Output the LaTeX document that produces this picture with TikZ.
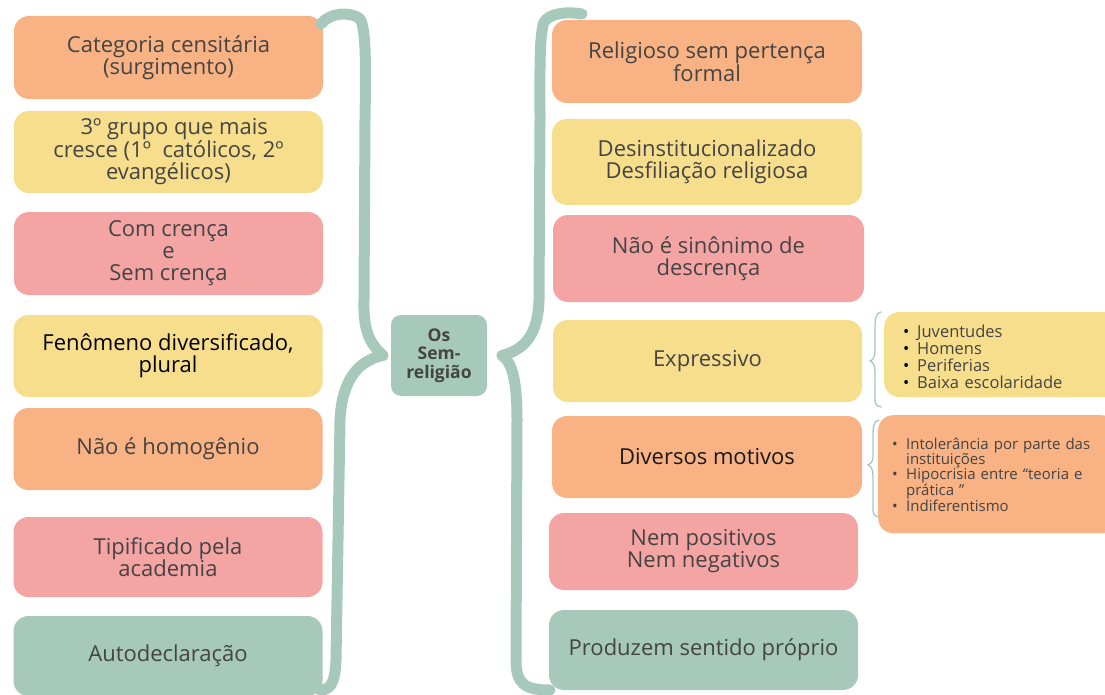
\documentclass[tikz,border=0pt]{standalone}
\usepackage{fontspec}
\setmainfont{Open Sans}
\usetikzlibrary{shapes}

\definecolor{laranja}{RGB}{248,178,132}
\definecolor{amarelo}{RGB}{247,222,140}
\definecolor{rosa}{RGB}{245,164,164}
\definecolor{verde}{RGB}{166,201,187}
\definecolor{texto}{RGB}{68,68,68}
\newcommand{\bitem}[1]{\par\hyphenpenalty=10000\hangindent=14pt\hangafter=1\noindent\makebox[14pt][l]{\textbullet}#1}
\newcommand{\bbitem}[1]{\par\hyphenpenalty=10000\hangindent=14pt\hangafter=1\noindent\makebox[14pt][l]{\textcolor{black}{\textbullet}}#1}

\begin{document}
\begin{tikzpicture}[x=1pt,y=-1pt]
					\tikzstyle{BOX} = [rounded corners=15pt, minimum width=309pt, minimum height=82pt, align=center, text=texto, font=\fontsize{22}{22}\selectfont, inner sep=0pt]
					\tikzstyle{orange} = [BOX, fill=laranja]
					\tikzstyle{yellow} = [BOX, fill=amarelo]
					\tikzstyle{pink} = [BOX, fill=rosa]
					\tikzstyle{green} = [BOX, fill=verde]
					\tikzstyle{LIST} = [rounded corners=15pt, anchor=west, text width=200pt, align=left, text=texto, inner xsep=14pt]
					\tikzstyle{BRACE} = [draw=verde, line width=11pt, line cap=round, line join=round]
					\tikzstyle{SMALL} = [draw=verde, line width=1.3pt, line cap=round]
					
					\useasboundingbox (0,0) rectangle (1105,695);
					
					% left column
					\node[orange, minimum height=83pt] (CAT) at (168.5,57.5) {Categoria censitária\\(surgimento)};
					\node[yellow] (GRUPO) at (168.5,152) {\ \ 3º grupo que mais\\cresce (1º\ \ católicos, 2º\\evangélicos)};
					\node[pink, minimum height=83pt] (CRENCA) at (168.5,253.5) {Com crença\\e\\Sem crença};
					\node[yellow, text=black] (FENOM) at (168,356) {Fenômeno diversificado,\\plural};
					\node[orange] (HOMOG) at (168,449) {Não é homogênio};
					\node[pink, minimum height=80pt] (TIPIF) at (168,557) {Tipificado pela\\academia};
					\node[green, minimum height=80pt] (AUTO) at (168,656) {Autodeclaração};
					
					% center
					\node[BOX, fill=verde, minimum width=96pt, minimum height=81pt, rounded corners=10pt, font=\fontsize{17.5}{18.5}\selectfont\bfseries] (OSR) at (439,355.5) {Os\\Sem-\\religião};
					
					% right column
					\node[orange, minimum width=310pt, minimum height=83pt] (RELIG) at (707,61.5) {Religioso sem pertença\\formal};
					\node[yellow, minimum width=310pt, minimum height=86pt] (DESINST) at (707,162) {Desinstitucionalizado\\Desfiliação religiosa};
					\node[pink, minimum width=311pt, minimum height=87pt] (SINON) at (708.5,258.5) {Não é sinônimo de\\descrença};
					\node[yellow] (EXPR) at (707.5,361) {Expressivo};
					\node[orange, minimum width=310pt, text=black!90] (MOTIV) at (707,457) {Diversos motivos};
					\node[pink, minimum height=77pt] (NEM) at (703.5,551.5) {Nem positivos\\Nem negativos};
					\node[green, minimum height=80pt] (PROD) at (703.5,650) {Produzem sentido próprio};
					
					% lists
					\node[LIST, fill=amarelo, minimum height=85pt, font=\fontsize{16.5}{17}\selectfont, inner xsep=19pt] (JUV) at (884,354.5) {\bbitem{Juventudes}\bbitem{Homens}\bbitem{Periferias}\bbitem{Baixa escolaridade}};
					\node[LIST, fill=laranja, minimum height=118pt, font=\fontsize{15}{15}\selectfont, text width=210pt, anchor=north west, text depth=80pt] (INTOL) at (878,415) {\bitem{Intolerância por parte das instituições}\bitem{Hipocrisia entre “teoria e prática ”}\bitem{Indiferentismo}};
					
					% braces
					\draw[BRACE] (321,24) .. controls (330,12) and (350,12) .. (359,18) .. controls (366,24) and (366,60) .. (365,120) -- (364,300) .. controls (363,335) and (372,345) .. (OSR.west -| 383,0) .. controls (360,360) and (342,378) .. (340,420) -- (336,660) .. controls (335,684) and (330,690) .. (320,690);
					\draw[BRACE] (582,14) .. controls (565,11) and (549,14) .. (544,22) .. controls (539,35) and (540,80) .. (540,120) -- (539,300) .. controls (538,335) and (524,350) .. (OSR.east -| 502,0) .. controls (512,362) and (517,380) .. (517,420) -- (516,660) .. controls (516,684) and (525,690) .. (550,690);
					\draw[SMALL] (881,312) .. controls (875,313) and (875,320) .. (875,330) -- (875,350) .. controls (875,357) and (873,360) .. (870,361) .. controls (873,362) and (875,365) .. (875,372) -- (875,396) .. controls (875,403) and (875,406) .. (881,407);
					\draw[SMALL] (879,420) .. controls (873,421) and (873,428) .. (873,438) -- (873,455) .. controls (873,462) and (871,464) .. (868,465) .. controls (871,466) and (873,469) .. (873,476) -- (873,506) .. controls (873,513) and (873,516) .. (879,517);
				\end{tikzpicture}
\end{document}
